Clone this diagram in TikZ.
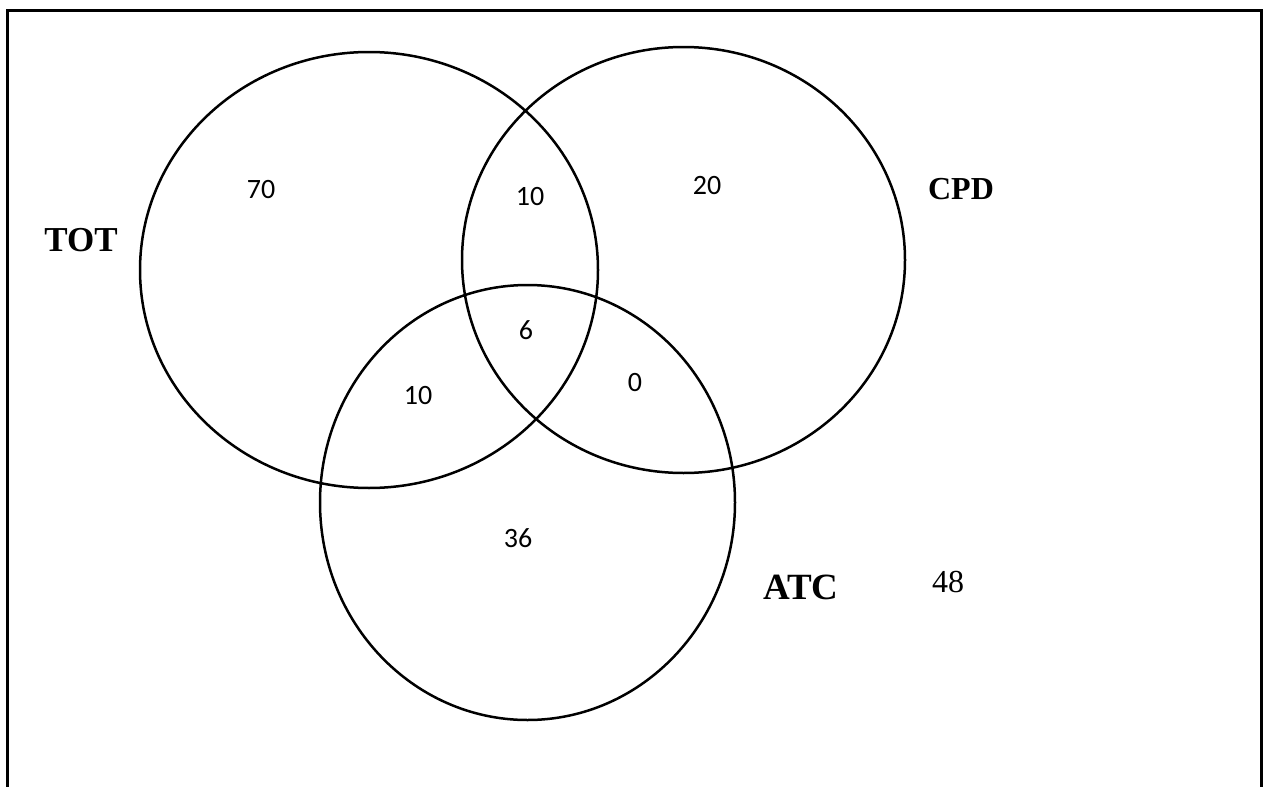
\documentclass[tikz,border=0pt]{standalone}
\usepackage{fontspec}
\setmainfont{Liberation Serif}
\newfontfamily\numfont{Carlito}
\usetikzlibrary{shapes.geometric}

\begin{document}
\begin{tikzpicture}[
    x=1pt, y=-1pt,
    set/.style={
        ellipse, draw=black, line width=2.5pt, inner sep=0pt
    },
    count/.style={font=\numfont\fontsize{28}{30}\selectfont},
    setname/.style={font=\bfseries\fontsize{#1}{#1}\selectfont},
    setname/.default=34
]
\useasboundingbox (0,0) rectangle (1264,787);

% Frame (open at the bottom)
\draw[line width=3pt] (7,787) -- (7,10) -- (1261,10) -- (1261,787);

% Sets
\node[set, minimum width=458, minimum height=436] (tot) at (369,270) {};
\node[set, minimum width=443, minimum height=426] (cpd) at (683.5,260) {};
\node[set, minimum width=415, minimum height=435] (atc) at (527.5,502.5) {};

% Set names
\node[setname=35] (totname) at (81,240) {TOT};
\node[setname=32] (cpdname) at (961,189) {CPD};
\node[setname=37] (atcname) at (801,587) {ATC};

% Region counts
\node[count] (totonly) at (261,190) {70};
\node[count] (totcpd) at (530,197) {10};
\node[count] (cpdonly) at (707,186) {20};
\node[count] (all) at (526,330) {6};
\node[count] (totatc) at (418,396) {10};
\node[count] (cpdatc) at (635,383) {0};
\node[count] (atconly) at (518,538) {36};
\node[font=\fontsize{32}{34}\selectfont] (outside) at (948,582) {48};

\end{tikzpicture}
\end{document}
